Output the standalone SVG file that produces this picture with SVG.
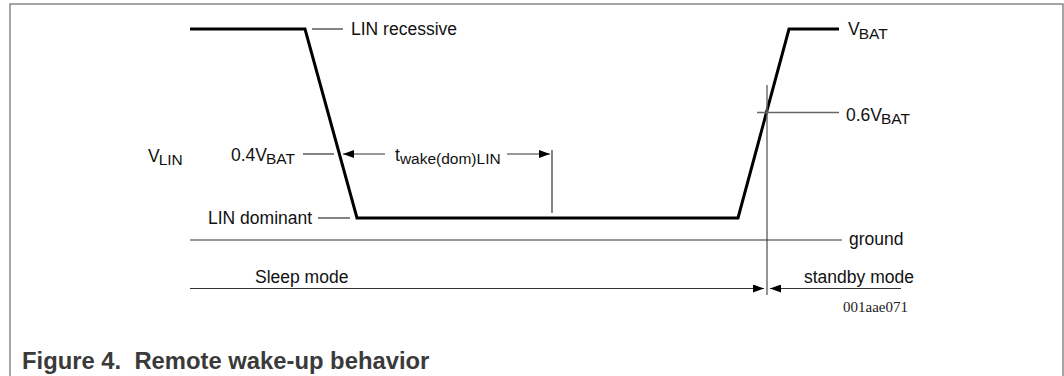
<svg xmlns="http://www.w3.org/2000/svg" width="1064" height="376" viewBox="0 0 1064 376">
<style>
.frame{fill:none;stroke:#888;stroke-width:1.5}
.sig{fill:none;stroke:#000;stroke-width:3;stroke-linejoin:miter}
.thin{fill:none;stroke:#333;stroke-width:1.2}
.gray{fill:none;stroke:#666;stroke-width:1.4}
.lbl{font-family:"Liberation Sans",Arial,sans-serif;font-size:17.5px;fill:#111}
.sub{font-size:15.5px}
.code{font-family:"Liberation Serif","Times New Roman",serif;font-size:15px;fill:#222}
.cap{font-family:"Liberation Sans",Arial,sans-serif;font-size:23.8px;font-weight:bold;fill:#3a3a3a}
</style>
<defs>
<marker id="ah" markerWidth="12" markerHeight="8" refX="11" refY="4" orient="auto" markerUnits="userSpaceOnUse">
<path d="M0,0 L11,4 L0,8 Z" fill="#000"/>
</marker>
</defs>
<path class="frame" d="M10,380 L10,4 L1063,4 L1063,380"/>
<g id="signal">
<path class="sig" d="M190,29 L305,29 L357,218 L738,218 L789,29 L839,29"/>
</g>
<g id="connectors">
<line class="thin" x1="312" y1="29" x2="343" y2="29"/>
<line class="thin" x1="303" y1="154" x2="334" y2="154"/>
<line class="thin" x1="318" y1="218" x2="350" y2="218"/>
<line class="thin" x1="385" y1="154" x2="343" y2="154" marker-end="url(#ah)"/>
<line class="thin" x1="507" y1="154" x2="550" y2="154" marker-end="url(#ah)"/>
<line class="thin" x1="552" y1="150" x2="552" y2="213"/>
<line class="gray" x1="757" y1="112.5" x2="839" y2="112.5"/>
<line class="gray" x1="767" y1="85" x2="767" y2="295"/>
<line class="thin" x1="190" y1="240" x2="842" y2="240"/>
<line class="thin" x1="190" y1="288.5" x2="764" y2="288.5" marker-end="url(#ah)"/>
<line class="thin" x1="901" y1="288.5" x2="770" y2="288.5" marker-end="url(#ah)"/>
</g>
<g id="label-recessive"><text class="lbl" x="351" y="35">LIN recessive</text></g>
<g id="label-vbat"><text class="lbl" x="848" y="35">V<tspan class="sub" dx="-1" dy="4">BAT</tspan></text></g>
<g id="label-06vbat"><text class="lbl" x="846" y="121">0.6V<tspan class="sub" dx="-1" dy="3">BAT</tspan></text></g>
<g id="label-vlin"><text class="lbl" x="148" y="161.5">V<tspan class="sub" dx="-1" dy="3">LIN</tspan></text></g>
<g id="label-04vbat"><text class="lbl" x="231" y="160.5">0.4V<tspan class="sub" dx="-1" dy="3">BAT</tspan></text></g>
<g id="label-twake"><text class="lbl" x="395" y="161">t<tspan class="sub" dx="0" dy="2.5">wake(dom)LIN</tspan></text></g>
<g id="label-dominant"><text class="lbl" x="208" y="223.5">LIN dominant</text></g>
<g id="label-ground"><text class="lbl" x="849" y="245">ground</text></g>
<g id="label-sleep"><text class="lbl" x="255" y="283">Sleep mode</text></g>
<g id="label-standby"><text class="lbl" x="804" y="282.5">standby mode</text></g>
<g id="label-code"><text class="code" x="843" y="312">001aae071</text></g>
<text class="cap" x="22" y="368.5" xml:space="preserve">Figure 4.  Remote wake-up behavior</text>
</svg>
